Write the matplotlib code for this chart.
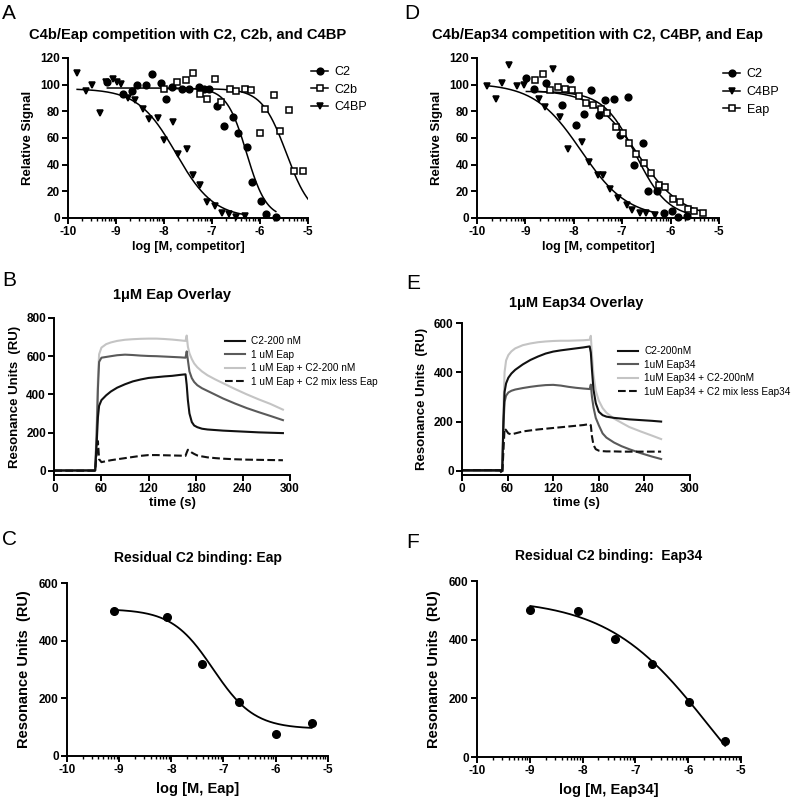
import numpy as np
import matplotlib.pyplot as plt

plt.rcParams['font.family'] = ['Liberation Sans', 'DejaVu Sans']

# ---- A: C4b/Eap competition (log M, relative signal) ----
a_c2_x = [-9.18, -8.86, -8.67, -8.56, -8.38, -8.26, -8.07, -7.95, -7.84, -7.63, -7.47, -7.28,
          -7.17, -7.06, -6.90, -6.75, -6.57, -6.45, -6.27, -6.16, -5.97, -5.87, -5.67]
a_c2_y = [102, 93, 95, 100, 100, 108, 101, 89, 98, 97, 97, 98,
          96.5, 97, 84, 69, 75.5, 63.5, 53.5, 27, 13, 3, 1]
a_c2b_x = [-8.01, -7.73, -7.54, -7.40, -7.24, -7.10, -6.94, -6.81, -6.63, -6.50, -6.32, -6.18,
           -6.00, -5.90, -5.71, -5.58, -5.40, -5.29, -5.10]
a_c2b_y = [96.5, 102, 103.5, 109, 93, 89, 104, 87, 97, 95, 96.5, 96,
           63.5, 82, 92, 65, 81, 35.5, 35.5]
a_c4bp_x = [-9.81, -9.63, -9.51, -9.33, -9.21, -9.06, -8.97, -8.90, -8.74, -8.60, -8.43, -8.31,
            -8.12, -8.00, -7.82, -7.70, -7.53, -7.39, -7.25, -7.10, -6.93, -6.80, -6.64, -6.49, -6.32]
a_c4bp_y = [109, 95.5, 99.8, 78.5, 102, 104, 102, 100.5, 90, 88.5, 82, 74,
            75, 58.5, 72, 48, 52, 32, 25, 12, 9, 3.5, 3, 1, 1.5]
# fitted curves: top, bottom, logEC50, hill, x range
a_fit_top = [97.5, 97, 97]
a_fit_bottom = [0, 0, 0]
a_fit_logec50 = [-6.28, -5.45, -7.75]
a_fit_hill = [2.1, 1.7, 1.1]
a_fit_xmin = [-9.18, -8.01, -9.81]
a_fit_xmax = [-5.67, -5.0, -6.30]

# ---- D: C4b/Eap34 competition ----
d_c2_x = [-8.98, -8.83, -8.57, -8.24, -8.07, -7.95, -7.78, -7.65, -7.48, -7.35, -7.17, -7.05,
          -6.88, -6.76, -6.58, -6.47, -6.29, -6.14, -5.98, -5.85, -5.67]
d_c2_y = [105, 97, 101, 85, 104, 70, 78, 96, 77, 88.5, 89, 62,
          91, 40, 56, 20, 20, 3.5, 5, 1, 1.5]
d_c4bp_x = [-9.79, -9.60, -9.48, -9.33, -9.17, -9.02, -8.72, -8.59, -8.42, -8.29, -8.13, -7.83,
            -7.69, -7.50, -7.40, -7.25, -7.09, -6.91, -6.80, -6.64, -6.50, -6.33]
d_c4bp_y = [99, 89, 101, 115, 99, 100, 89, 83, 112, 75.5, 52, 57,
            42, 32, 32, 22, 15, 10, 6, 4, 3.5, 2]
d_eap_x = [-8.81, -8.64, -8.50, -8.33, -8.19, -8.03, -7.89, -7.74, -7.60, -7.43, -7.31, -7.13,
           -6.99, -6.85, -6.71, -6.54, -6.40, -6.24, -6.11, -5.95, -5.81, -5.64, -5.52, -5.33]
d_eap_y = [103.5, 108, 96, 98, 97, 96, 91.5, 86.5, 85, 81.5, 78.5, 68.5,
           63.5, 56.5, 48, 41.5, 33.5, 25, 23, 14, 12, 7, 5, 4]
d_fit_top = [95, 101, 96]
d_fit_bottom = [0, 0, 0]
d_fit_logec50 = [-6.72, -7.85, -6.68]
d_fit_hill = [1.3, 0.9, 0.95]
d_fit_xmin = [-8.98, -9.79, -8.81]
d_fit_xmax = [-5.67, -6.30, -5.33]

# ---- B: 1uM Eap overlay (sensorgrams) ----
b_time = [0, 20, 40, 52, 54, 55.5, 57, 60, 66, 72, 80, 90, 100, 110, 120, 130, 140, 150, 160,
          167, 168.5, 170, 172, 175, 178, 182, 188, 195, 205, 215, 230, 245, 260, 275, 291]
b_c2 = [2, 2, 2, 2, 150, 280, 340, 370, 395, 415, 435, 453, 468, 478, 486, 490, 494, 497, 502,
        505, 450, 370, 300, 255, 237, 228, 220, 216, 213, 210, 207, 204, 201, 199, 197]
b_eap = [0, 0, 0, 0, 200, 430, 570, 592, 596, 600, 605, 608, 606, 603, 601, 600, 598, 596, 594,
         592, 625, 580, 520, 485, 465, 448, 432, 418, 398, 378, 352, 328, 307, 287, 265]
b_mix = [0, 0, 0, 0, 250, 480, 610, 645, 663, 672, 680, 686, 689, 691, 692, 692, 690, 687, 683,
         680, 708, 650, 615, 585, 562, 542, 520, 500, 478, 458, 428, 400, 374, 350, 320]
b_less = [0, 0, 0, 0, 100, 155, 60, 45, 50, 55, 60, 66, 72, 78, 82, 82, 81, 80, 79,
          78, 95, 110, 105, 95, 88, 80, 75, 70, 66, 63, 60, 58, 57, 56, 55]
b_labels = ['C2-200 nM', '1 uM Eap', '1 uM Eap + C2-200 nM', '1 uM Eap + C2 mix less Eap']

# ---- E: 1uM Eap34 overlay ----
e_time = [0, 20, 40, 50, 53, 54.5, 56, 58, 61, 65, 70, 80, 90, 100, 110, 120, 130, 140, 150, 160,
          168, 169.5, 171, 173, 176, 180, 185, 190, 200, 210, 220, 235, 250, 262]
e_c2 = [3, 3, 3, 3, 3, 200, 320, 355, 378, 395, 410, 432, 450, 464, 476, 484, 489, 493, 497, 501,
        505, 480, 410, 330, 275, 240, 226, 220, 215, 212, 209, 206, 203, 200]
e_eap34 = [0, 0, 0, 0, 0, 180, 280, 305, 318, 325, 330, 336, 341, 345, 348, 349, 346, 341, 337, 334,
           332, 350, 300, 258, 215, 185, 152, 135, 115, 100, 88, 72, 58, 48]
e_mix = [0, 0, 0, 0, 0, 250, 400, 448, 470, 485, 497, 510, 517, 522, 525, 527, 528, 528, 529, 530,
         532, 548, 470, 390, 325, 285, 255, 236, 212, 195, 178, 160, 143, 129]
e_less = [3, 3, 3, 2, -12, 80, 172, 165, 152, 148, 152, 160, 164, 168, 171, 174, 177, 180, 183, 186,
          190, 185, 140, 105, 88, 82, 80, 79, 79, 78, 78, 78, 78, 78]
e_labels = ['C2-200nM', '1uM Eap34', '1uM Eap34 + C2-200nM', '1uM Eap34 + C2 mix less Eap34']

# ---- C / F: residual C2 binding ----
c_x = [-9.10, -8.09, -7.41, -6.70, -6.00, -5.31]
c_y = [503, 481, 318, 188, 78, 115]
c_fit = [510, 94, -7.2, 1.1]
f_x = [-8.99, -8.09, -7.39, -6.69, -5.99, -5.30]
f_y = [501, 498, 401, 316, 189, 56]
f_fit = [540, -330, -5.6, 0.45]


def logistic(x, top, bottom, logec50, hill):
    return bottom + (top - bottom) / (1 + 10 ** ((x - logec50) * hill))


def style(ax):
    ax.spines['top'].set_visible(False)
    ax.spines['right'].set_visible(False)
    ax.spines['left'].set_linewidth(1.4)
    ax.spines['bottom'].set_linewidth(1.4)
    ax.tick_params(which='major', width=1.4, length=4, direction='out', pad=2)
    ax.tick_params(which='minor', width=1.0, length=2.5, direction='out')


def log_xaxis(ax):
    ax.set_xlim(-10, -5)
    ax.set_xticks(range(-10, -4), [str(v) for v in range(-10, -4)], fontweight='bold', fontsize=8.5)
    minor = [d + np.log10(k) for d in range(-10, -5) for k in range(2, 10)]
    ax.set_xticks(minor, minor=True)


def px(x, y):
    return x / 800, 1 - y / 800


fig = plt.figure(figsize=(8, 8), dpi=100)

# panel A and D
for rect, title, series, fits, tx, letter, lx, leg in [
        ([0.085, 0.7275, 0.30, 0.2], 'C4b/Eap competition with C2, C2b, and C4BP',
         [(a_c2_x, a_c2_y, 'o', 'k', 'C2'), (a_c2b_x, a_c2b_y, 's', 'white', 'C2b'),
          (a_c4bp_x, a_c4bp_y, 'v', 'k', 'C4BP')],
         (a_fit_top, a_fit_bottom, a_fit_logec50, a_fit_hill, a_fit_xmin, a_fit_xmax), 188, 'A', 2,
         (0.965, 1.02)),
        ([0.59625, 0.7275, 0.3025, 0.2], 'C4b/Eap34 competition with C2, C4BP, and Eap',
         [(d_c2_x, d_c2_y, 'o', 'k', 'C2'), (d_c4bp_x, d_c4bp_y, 'v', 'k', 'C4BP'),
          (d_eap_x, d_eap_y, 's', 'white', 'Eap')],
         (d_fit_top, d_fit_bottom, d_fit_logec50, d_fit_hill, d_fit_xmin, d_fit_xmax), 598, 'D', 404,
         (0.97, 1.005))]:
    ax = fig.add_axes(rect)
    handles = []
    for i, (xs, ys, mk, fc, lab) in enumerate(series):
        top, bot, ec, hill, x0, x1 = [f[i] for f in fits]
        xx = np.linspace(x0, x1, 200)
        ax.plot(xx, logistic(xx, top, bot, ec, hill), color='k', lw=1.1)
        ax.plot(xs, ys, ls='none', marker=mk, ms=4.8, mfc=fc, mec='k', mew=1.1, clip_on=False)
        h, = ax.plot([], [], color='k', lw=1.1, marker=mk, ms=4.8, mfc=fc, mec='k', mew=1.1)
        handles.append((h, lab))
    log_xaxis(ax)
    ax.set_ylim(0, 120)
    ax.set_yticks(range(0, 121, 20), [str(v) for v in range(0, 121, 20)], fontweight='bold', fontsize=8.5)
    style(ax)
    ax.set_xlabel('log [M, competitor]', fontweight='bold', fontsize=9, labelpad=2)
    ax.set_ylabel('Relative Signal', fontweight='bold', fontsize=9.5, labelpad=4)
    ax.legend([h for h, _ in handles], [l for _, l in handles], loc='upper left',
              bbox_to_anchor=leg, frameon=False, fontsize=9, handlelength=1.4,
              handletextpad=0.5, labelspacing=0.45)
    fig.text(*px(tx, 39.5), title, ha='center', va='baseline', fontweight='bold', fontsize=10.6)
    fig.text(*px(lx, 19), letter, ha='left', va='baseline', fontsize=15)

# panel B and E
for rect, tm, curves, labels, ymax, yt, title, tx, ty, leg, letter, lx, ly in [
        ([0.0679, 0.40625, 0.2946, 0.19625], b_time, [b_c2, b_eap, b_mix, b_less], b_labels,
         800, range(0, 801, 200), '1\u03bcM Eap Overlay', 172, 299, (0.685, 0.94), 'B', 2, 286),
        ([0.5775, 0.40625, 0.285, 0.19], e_time, [e_c2, e_eap34, e_mix, e_less], e_labels,
         600, range(0, 601, 200), '1\u03bcM Eap34 Overlay', 576, 307, (0.645, 0.905), 'E', 406, 289)]:
    ax = fig.add_axes(rect)
    colors = ['#111111', '#5a5a5a', '#c4c4c4', '#111111']
    styles = ['-', '-', '-', '--']
    order = [2, 1, 0, 3]
    lines = {}
    for i in order:
        ln, = ax.plot(tm, curves[i], color=colors[i], ls=styles[i], lw=1.5)
        lines[i] = ln
    ax.set_xlim(0, 300)
    ax.set_ylim(-ymax * 0.028, ymax)
    ax.set_xticks(range(0, 301, 60), [str(v) for v in range(0, 301, 60)], fontweight='bold', fontsize=8.5)
    ax.set_yticks(list(yt), [str(v) for v in yt], fontweight='bold', fontsize=8.5)
    style(ax)
    ax.set_xlabel('time (s)', fontweight='bold', fontsize=9.5, labelpad=1)
    ax.set_ylabel('Resonance Units  (RU)', fontweight='bold', fontsize=9.5, labelpad=4)
    ax.legend([lines[i] for i in range(4)], labels, loc='upper left', bbox_to_anchor=leg,
              frameon=False, fontsize=7.2, handlelength=2.0, handletextpad=0.6, labelspacing=0.35)
    fig.text(*px(tx, ty), title, ha='center', va='baseline', fontweight='bold', fontsize=10.5)
    fig.text(*px(lx, ly), letter, ha='left', va='baseline', fontsize=15)

# panel C and F
for rect, xs, ys, fit, xlab, title, tx, ty, letter, lx, ly in [
        ([0.08375, 0.055, 0.326, 0.21625], c_x, c_y, c_fit, 'log [M, Eap]',
         'Residual C2 binding: Eap', 198, 562, 'C', 2, 545),
        ([0.59625, 0.05375, 0.33, 0.22], f_x, f_y, f_fit, 'log [M, Eap34]',
         'Residual C2 binding:  Eap34', 609, 560, 'F', 406, 548)]:
    ax = fig.add_axes(rect)
    xx = np.linspace(min(xs), max(xs), 200)
    ax.plot(xx, logistic(xx, *fit), color='k', lw=1.3)
    ax.plot(xs, ys, ls='none', marker='o', ms=5.5, color='k', clip_on=False)
    log_xaxis(ax)
    ax.set_ylim(0, 600)
    ax.set_yticks(range(0, 601, 200), [str(v) for v in range(0, 601, 200)], fontweight='bold', fontsize=8.5)
    style(ax)
    ax.set_xlabel(xlab, fontweight='bold', fontsize=10.5, labelpad=4)
    ax.set_ylabel('Resonance Units  (RU)', fontweight='bold', fontsize=10.5, labelpad=6)
    fig.text(*px(tx, ty), title, ha='center', va='baseline', fontweight='bold', fontsize=10)
    fig.text(*px(lx, ly), letter, ha='left', va='baseline', fontsize=15)

fig.savefig('out.png', dpi=100)
